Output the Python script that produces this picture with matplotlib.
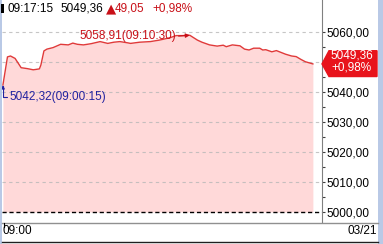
import matplotlib
matplotlib.use("Agg")
import matplotlib.pyplot as plt
import matplotlib.transforms as mtransforms
from matplotlib.patches import Rectangle, Polygon
from matplotlib.lines import Line2D

plt.rcParams['font.family'] = ['Liberation Sans', 'DejaVu Sans']

# data: seconds after 09:00 and index value
secs = [15, 30, 40, 55, 75, 95, 115, 135, 140, 150, 160, 180, 205, 230, 245, 260,
        280, 305, 335, 360, 380, 400, 425, 435, 465, 500, 530, 565, 585, 605, 630,
        655, 670, 695, 720, 740, 750, 770, 795, 810, 825, 840, 860, 870, 880, 900,
        915, 930, 945, 965, 980, 995, 1010, 1035]
vals = [5042.32, 5051.7, 5052.0, 5051.2, 5048.1, 5047.8, 5047.4, 5047.7, 5049.0,
        5053.7, 5054.3, 5054.8, 5055.9, 5055.7, 5056.3, 5055.9, 5055.7, 5056.1,
        5056.8, 5056.2, 5056.6, 5056.8, 5056.4, 5056.2, 5056.6, 5056.8, 5057.3,
        5058.1, 5058.8, 5058.8, 5058.91, 5057.3, 5056.6, 5055.7, 5055.3, 5055.6,
        5055.1, 5055.7, 5055.4, 5054.3, 5054.0, 5054.6, 5054.6, 5054.0, 5054.1,
        5053.4, 5053.8, 5053.2, 5052.6, 5052.0, 5051.8, 5050.9, 5050.1, 5049.36]

yticks = [5000, 5010, 5020, 5030, 5040, 5050, 5060]
# 5050,00 sits under the price badge, so it is not shown
ytick_labels = ['5000,00', '5010,00', '5020,00', '5030,00', '5040,00', '', '5060,00']
minor_ticks = [5005, 5015, 5025, 5035, 5045, 5055]

hi_label = '5058,91(09:10:30)'
lo_label = '5042,32(09:00:15)'
head_time = '09:17:15'
head_price = '5049,36'
head_chg = '49,05'
head_pct = '+0,98%'
badge_price = '5049,36'
badge_pct = '+0,98%'
x_left_label = '09:00'
x_right_label = '03/21'

W, H = 383, 244
fs = 8.5
red = '#e03a3a'
dark_red = '#c81018'
navy = '#2222a0'

fig = plt.figure(figsize=(W / 100, H / 100), dpi=100)
fig.patch.set_facecolor('white')
ax = fig.add_axes([2 / W, 22 / H, 320 / W, 222 / H])

ax.set_xlim(12, 1065)
ax.set_ylim(4996.667, 5070.667)

ax.fill_between(secs, vals, 5000, color='#ffd9d9', lw=0, zorder=1)
for y in yticks[1:]:
    ax.axhline(y, color='#b8b8b8', ls=(0, (3, 3)), lw=0.8, alpha=0.8, zorder=2)
ax.axhline(5000, color='black', ls=(0, (3, 2)), lw=1, zorder=2)
ax.plot(secs, vals, color=red, lw=1, zorder=3)

# axis styling
for s in ['top', 'left', 'bottom']:
    ax.spines[s].set_visible(False)
ax.spines['right'].set_color('#808080')
ax.yaxis.tick_right()
ax.set_yticks(yticks)
ax.set_yticklabels(ytick_labels, fontsize=fs)
ax.set_yticks(minor_ticks, minor=True)
ax.tick_params(axis='y', which='both', length=2.5, width=0.8, color='#404040', pad=0.5)
ax.set_xticks([])

# high / low markers
ax.annotate(hi_label, xy=(630, 5058.91), xytext=(-14, -1), textcoords='offset pixels',
            ha='right', va='center', fontsize=fs, color=dark_red, annotation_clip=False,
            arrowprops=dict(arrowstyle='-|>', color=dark_red, lw=0.8, mutation_scale=6,
                            shrinkA=0, shrinkB=0, relpos=(1, 0.5)), zorder=5)
ax.annotate(lo_label, xy=(15, 5042.32), xytext=(7, -12), textcoords='offset pixels',
            ha='left', va='center', fontsize=fs, color=navy, annotation_clip=False,
            arrowprops=dict(arrowstyle='-|>', color=navy, lw=0.8, mutation_scale=5,
                            shrinkA=0, shrinkB=0, relpos=(0, 0.5),
                            connectionstyle='angle,angleA=0,angleB=90,rad=0'), zorder=5)

# price badge on the right
tr = mtransforms.blended_transform_factory(fig.transFigure, ax.transData)
last = vals[-1]
badge = Polygon([(322 / W, last), (329 / W, last + 4.4), (377 / W, last + 4.4),
                 (377 / W, last - 4.2), (329 / W, last - 4.2)],
                closed=True, transform=tr, color='#e8141c', clip_on=False, zorder=6)
fig.add_artist(badge)
fig.text(352 / W, 1 - 55.5 / H, badge_price, ha='center', va='center', fontsize=fs,
         color='white', zorder=7)
fig.text(352 / W, 1 - 68 / H, badge_pct, ha='center', va='center', fontsize=fs,
         color='white', zorder=7)

# side bands
fig.add_artist(Rectangle((0, 0), 2 / W, 1, transform=fig.transFigure, color='#b9c9e6', lw=0))
fig.add_artist(Rectangle((377.5 / W, 0), 6 / W, 1, transform=fig.transFigure, color='#b9c9e6', lw=0))

# bottom strip
fig.add_artist(Line2D([2 / W, 377.5 / W], [1 - 222.5 / H] * 2, transform=fig.transFigure,
                      color='#909090', lw=1))
fig.add_artist(Line2D([2 / W, 377.5 / W], [1 - 241.5 / H] * 2, transform=fig.transFigure,
                      color='#202020', lw=1))
fig.add_artist(Line2D([3.5 / W] * 2, [1 - 223 / H, 1 - 227 / H], transform=fig.transFigure,
                      color='black', lw=0.8))
fig.text(3 / W, 1 - 231.5 / H, x_left_label, ha='left', va='center', fontsize=fs)
fig.text(377 / W, 1 - 231.5 / H, x_right_label, ha='right', va='center', fontsize=fs)

# header
fig.add_artist(Rectangle((1 / W, 1 - 13 / H), 2.5 / W, 9 / H, transform=fig.transFigure,
                         color='black', lw=0))
fig.text(8 / W, 1 - 8.5 / H, head_time, ha='left', va='center', fontsize=fs)
fig.text(60 / W, 1 - 8.5 / H, head_price, ha='left', va='center', fontsize=fs)
fig.text(106 / W, 1 - 8.5 / H, '\u25b2', ha='left', va='center', fontsize=9.5,
         color=dark_red, family='DejaVu Sans')
fig.text(115 / W, 1 - 8.5 / H, head_chg, ha='left', va='center', fontsize=fs, color=dark_red)
fig.text(152 / W, 1 - 8.5 / H, head_pct, ha='left', va='center', fontsize=fs, color=dark_red)

fig.savefig('out.png', dpi=100)
